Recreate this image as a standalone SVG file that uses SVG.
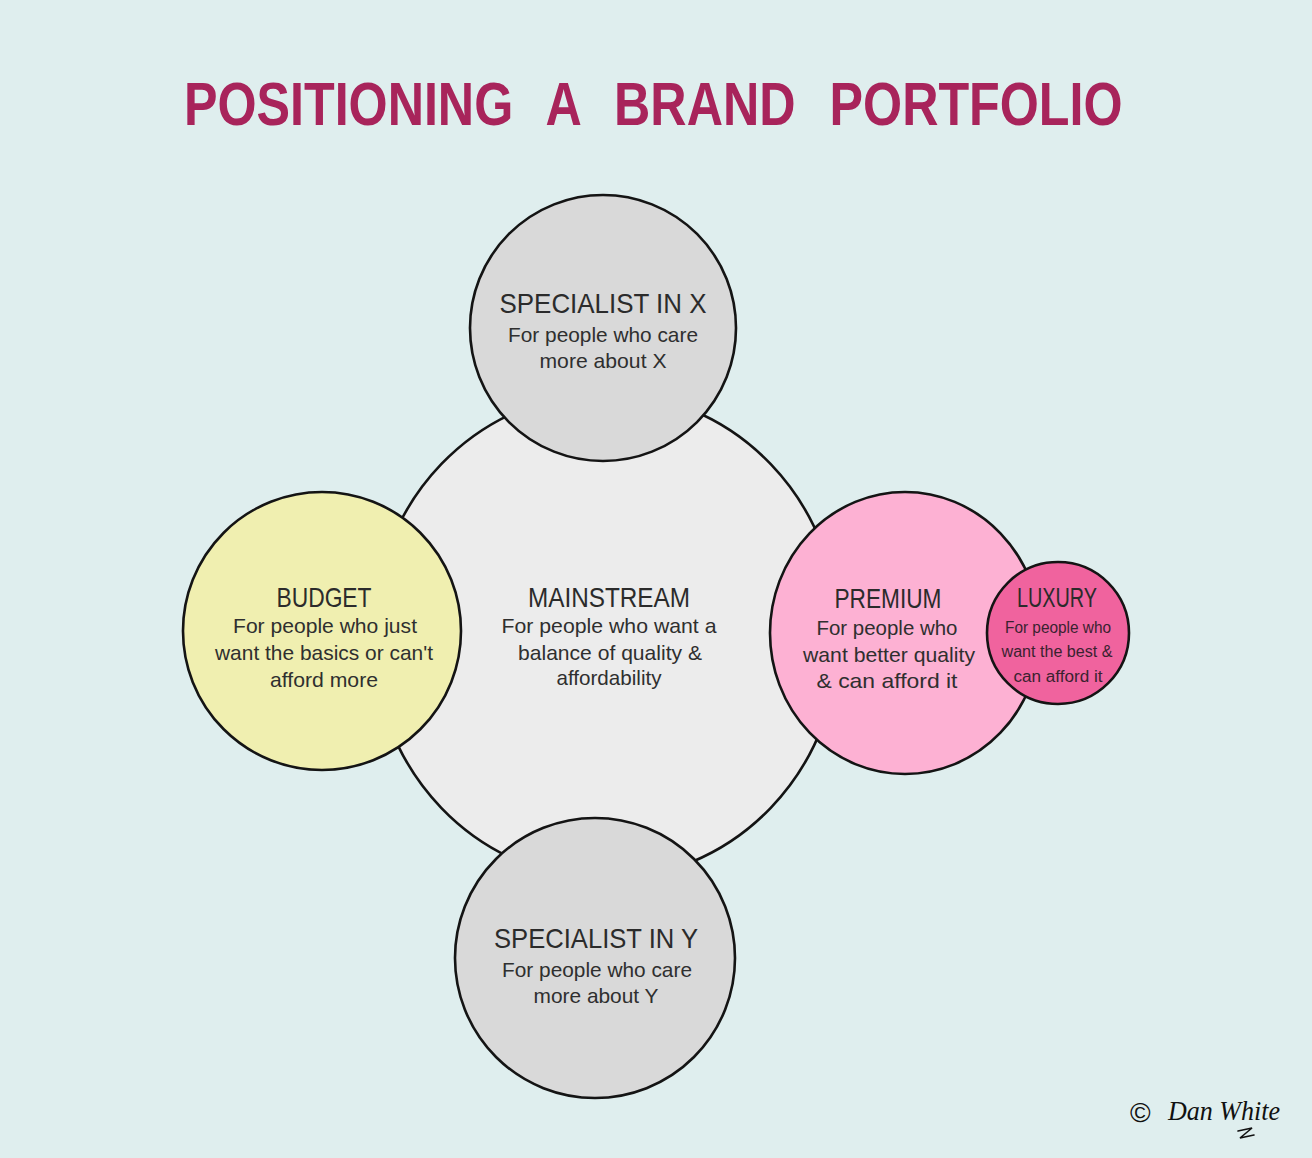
<svg xmlns="http://www.w3.org/2000/svg" width="1312" height="1158" viewBox="0 0 1312 1158">
<style>
.c{stroke:#141414;stroke-width:2.6}
.t{font-family:"Liberation Sans",Arial,sans-serif;fill:#2b2b2b;text-anchor:middle;font-size:28px}
.b{font-family:"Liberation Sans",Arial,sans-serif;fill:#2f2f2f;text-anchor:middle;font-size:21px}
.ls{font-family:"Liberation Sans",Arial,sans-serif;fill:#3a2230;text-anchor:middle;font-size:16px}
.h{font-family:"Liberation Sans",Arial,sans-serif;font-weight:bold;font-size:62px;fill:#a8245b;word-spacing:25px}
</style>
<rect width="1312" height="1158" fill="#dfeeee"/>
<g id="title">
<text class="h" transform="translate(184,125) scale(0.81,1)" x="0" y="0">POSITIONING A BRAND PORTFOLIO</text>
</g>

<g id="mainstream">
<ellipse class="c" cx="606" cy="636" rx="233" ry="243" fill="#ececec"/>
<text class="t" x="609" y="607" textLength="162" lengthAdjust="spacingAndGlyphs">MAINSTREAM</text>
<text class="b" x="609" y="633" textLength="215" lengthAdjust="spacingAndGlyphs">For people who want a</text>
<text class="b" x="610" y="660" textLength="184" lengthAdjust="spacingAndGlyphs">balance of quality &amp;</text>
<text class="b" x="609" y="685" textLength="105" lengthAdjust="spacingAndGlyphs">affordability</text>
</g>

<g id="specialist-x">
<circle class="c" cx="603" cy="328" r="133" fill="#d9d9d9"/>
<text class="t" x="603" y="313" textLength="207" lengthAdjust="spacingAndGlyphs">SPECIALIST IN X</text>
<text class="b" x="603" y="342" textLength="190" lengthAdjust="spacingAndGlyphs">For people who care</text>
<text class="b" x="603" y="368" textLength="127" lengthAdjust="spacingAndGlyphs">more about X</text>
</g>

<g id="specialist-y">
<circle class="c" cx="595" cy="958" r="140" fill="#d9d9d9"/>
<text class="t" x="596" y="948" textLength="204" lengthAdjust="spacingAndGlyphs">SPECIALIST IN Y</text>
<text class="b" x="597" y="977" textLength="190" lengthAdjust="spacingAndGlyphs">For people who care</text>
<text class="b" x="596" y="1003" textLength="125" lengthAdjust="spacingAndGlyphs">more about Y</text>
</g>

<g id="budget">
<circle class="c" cx="322" cy="631" r="139" fill="#f0efb0"/>
<text class="t" x="324" y="607" textLength="95" lengthAdjust="spacingAndGlyphs">BUDGET</text>
<text class="b" x="325" y="633" textLength="184" lengthAdjust="spacingAndGlyphs">For people who just</text>
<text class="b" x="324" y="660" textLength="218" lengthAdjust="spacingAndGlyphs">want the basics or can't</text>
<text class="b" x="324" y="687" textLength="108" lengthAdjust="spacingAndGlyphs">afford more</text>
</g>

<g id="premium">
<ellipse class="c" cx="905" cy="633" rx="135" ry="141" fill="#fdb1d3"/>
<text class="t" x="888" y="608" textLength="107" lengthAdjust="spacingAndGlyphs">PREMIUM</text>
<text class="b" x="887" y="635" textLength="141" lengthAdjust="spacingAndGlyphs">For people who</text>
<text class="b" x="889" y="662" textLength="172" lengthAdjust="spacingAndGlyphs">want better quality</text>
<text class="b" x="887" y="688" textLength="141" lengthAdjust="spacingAndGlyphs">&amp; can afford it</text>
</g>

<g id="luxury">
<circle class="c" cx="1058" cy="633" r="71" fill="#f0639e"/>
<text class="t" x="1057" y="607" font-size="24" textLength="80" lengthAdjust="spacingAndGlyphs" fill="#3a2230">LUXURY</text>
<text class="ls" x="1058" y="633" textLength="106" lengthAdjust="spacingAndGlyphs">For people who</text>
<text class="ls" x="1057" y="657" textLength="111" lengthAdjust="spacingAndGlyphs">want the best &amp;</text>
<text class="ls" x="1058" y="682" textLength="89" lengthAdjust="spacingAndGlyphs">can afford it</text>
</g>

<g id="credit">
<text x="1130" y="1122" font-family="Liberation Sans,Arial,sans-serif" font-size="28" fill="#111">©</text>
<text x="1168" y="1120" font-family="Liberation Serif,serif" font-style="italic" font-size="28" fill="#111" textLength="112" lengthAdjust="spacingAndGlyphs">Dan White</text>
<path d="M1238 1131 L1252 1128 L1240 1138 L1254 1135" fill="none" stroke="#111" stroke-width="1.6" stroke-linecap="round"/>
</g>
</svg>
